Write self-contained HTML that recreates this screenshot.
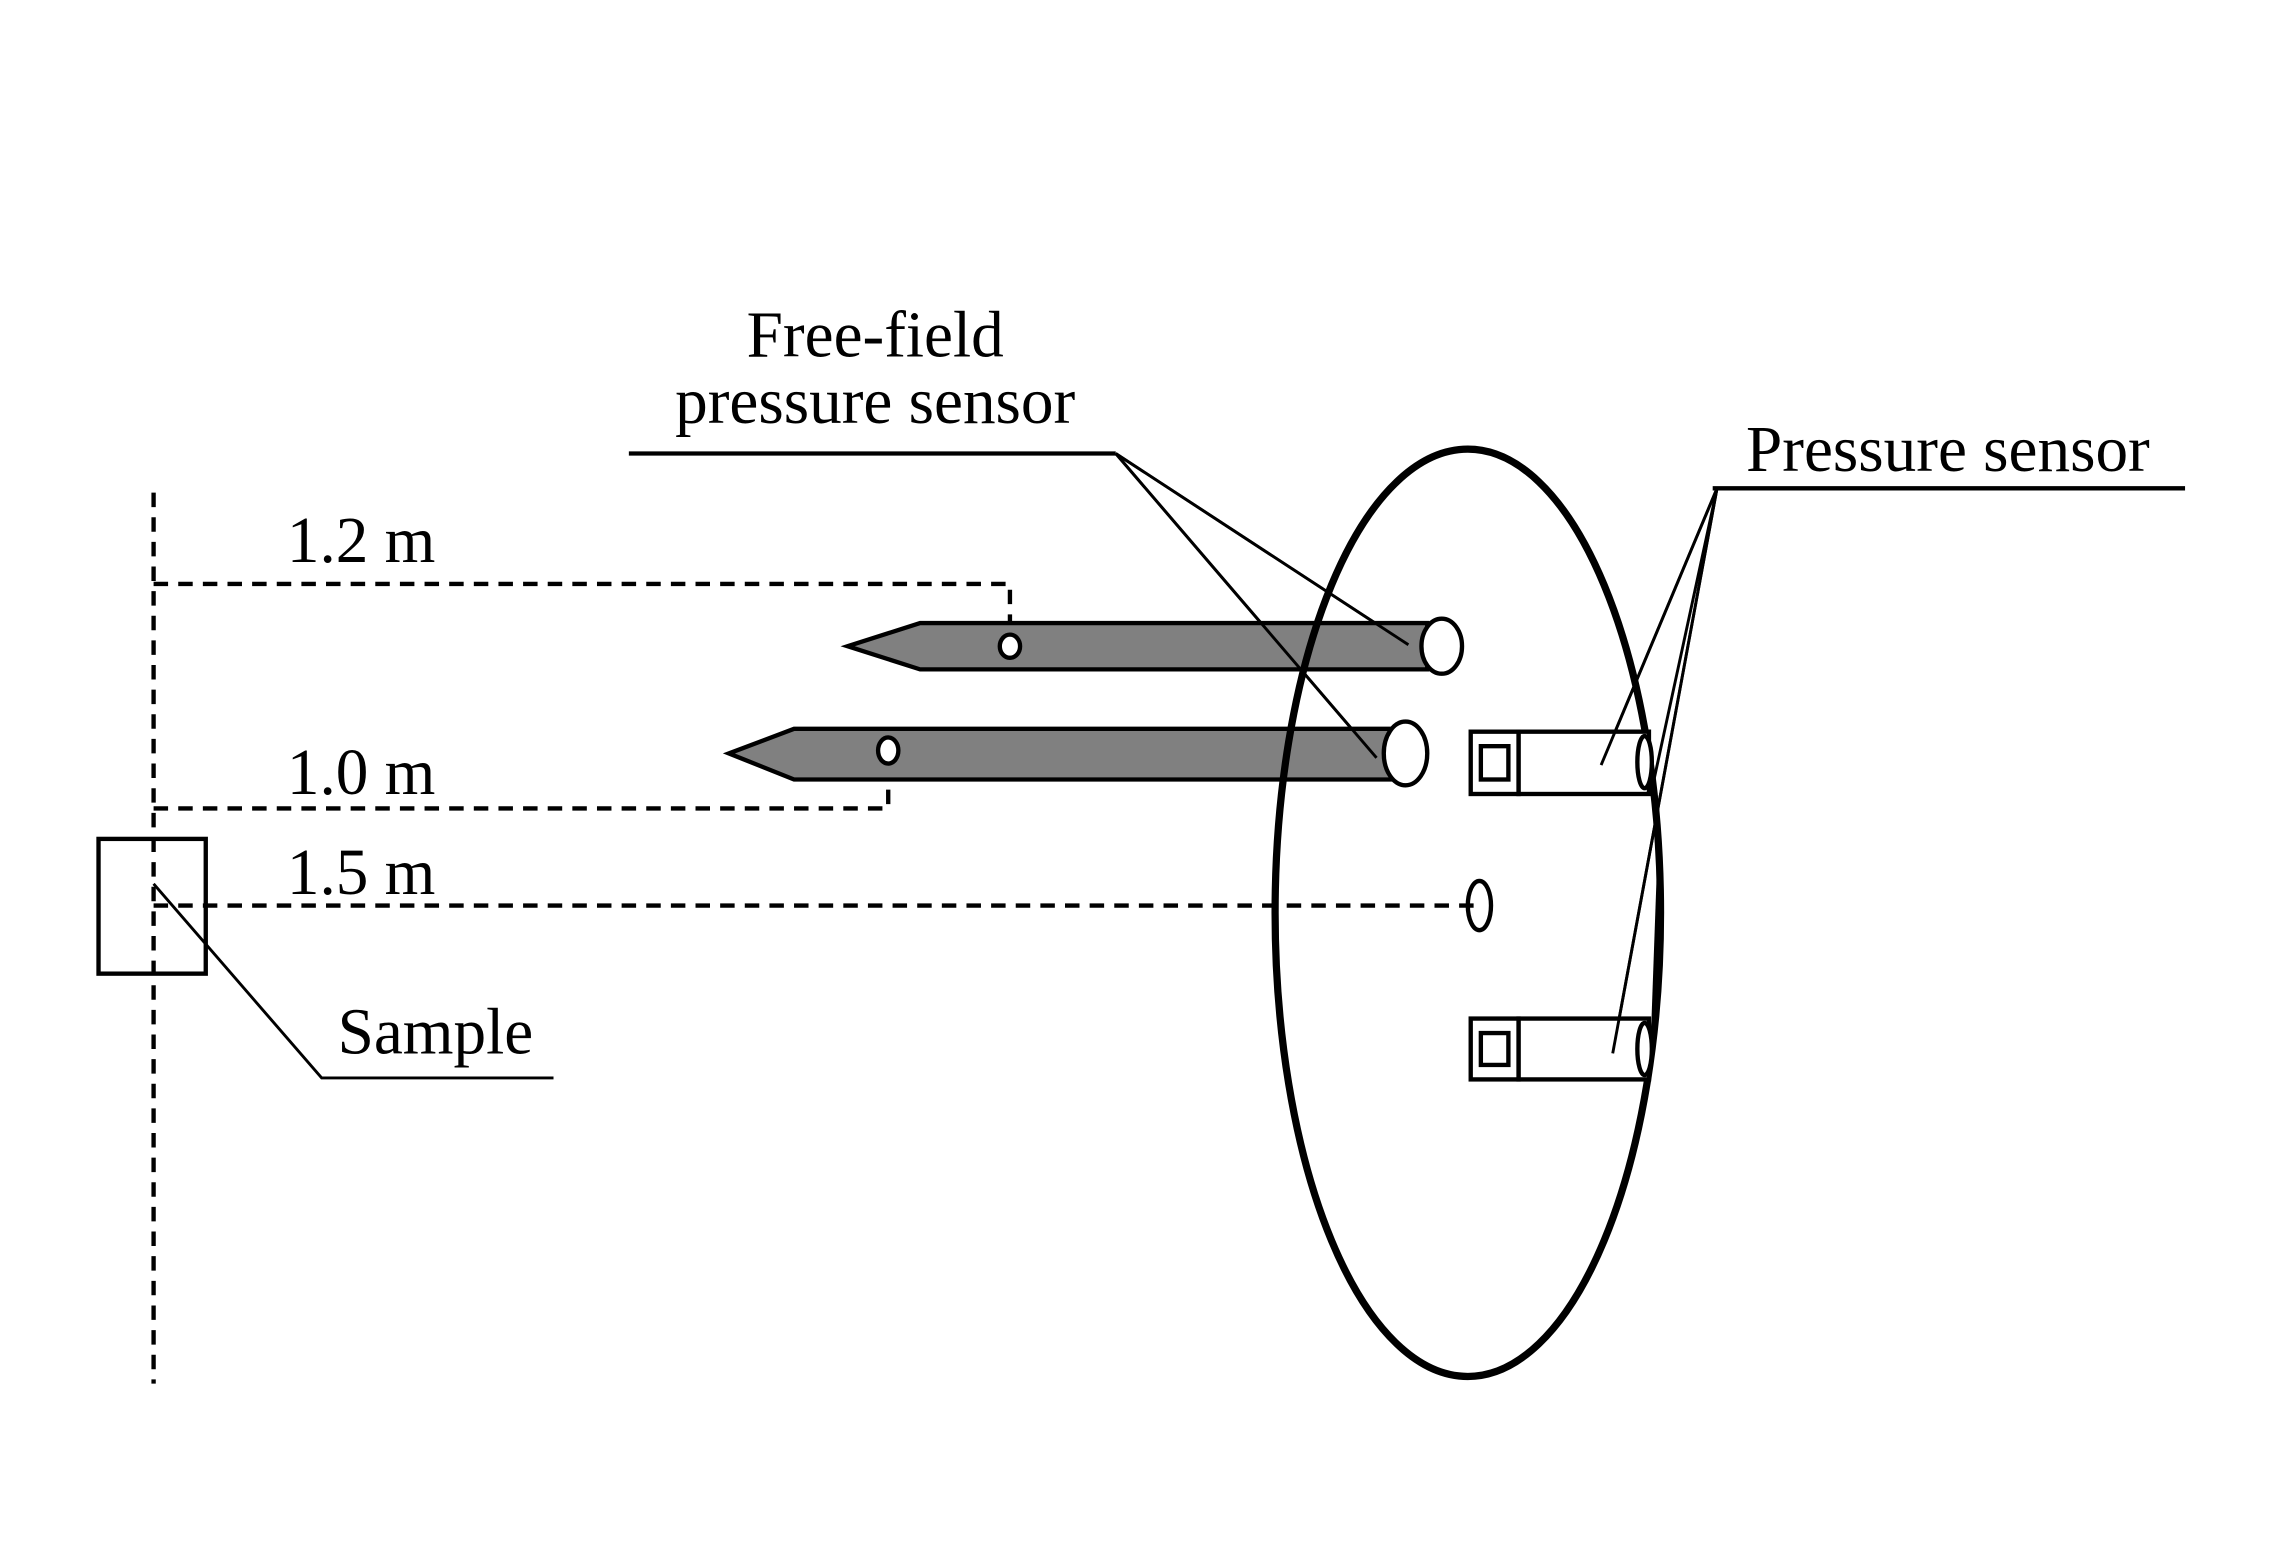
<!DOCTYPE html>
<html><head><style>html,body{margin:0;padding:0;background:#fff}svg{display:block}</style></head>
<body>
<svg width="2272" height="1559" viewBox="0 0 1568 1076" preserveAspectRatio="none" xmlns="http://www.w3.org/2000/svg">
<rect width="1568" height="1076" fill="#fff"/>
<g font-family="Liberation Serif, serif" font-size="45" fill="#000">
<text x="604" y="246" text-anchor="middle">Free-field</text>
<text x="604" y="292" text-anchor="middle">pressure sensor</text>
<text x="1205" y="325">Pressure sensor</text>
<text x="198" y="388">1.2 m</text>
<text x="198" y="548">1.0 m</text>
<text x="198" y="617">1.5 m</text>
<text x="233" y="727">Sample</text>
</g>
<g stroke="#000" fill="none" stroke-width="3" stroke-dasharray="10,7">
<line x1="106" y1="340" x2="106" y2="955"/>
<polyline points="106,403 697,403 697,430"/>
<polyline points="106,558 613,558 613,538"/>
<line x1="106" y1="625" x2="1018" y2="625"/>
</g>
<g stroke="#000" fill="none" stroke-width="2">
<rect x="68" y="579" width="74" height="93" stroke-width="3"/>
<polyline points="106,610 222,744 382,744"/>
<line x1="434" y1="313" x2="770" y2="313" stroke-width="3"/>
<line x1="770" y1="313" x2="972" y2="445"/>
<line x1="770" y1="313" x2="950" y2="523"/>
<line x1="1182" y1="337" x2="1508" y2="337" stroke-width="3"/>
<line x1="1185" y1="337" x2="1105" y2="528"/>
<line x1="1185" y1="337" x2="1140" y2="545"/>
<line x1="1185" y1="337" x2="1113" y2="727"/>
<line x1="1145" y1="585" x2="1140" y2="725"/>
</g>
<g stroke="#000" stroke-width="3">
<polygon points="585,446 635,430 985,430 985,462 635,462" fill="#808080"/>
<ellipse cx="995" cy="446" rx="14" ry="19" fill="#fff"/>
<ellipse cx="697" cy="446" rx="7" ry="8" fill="#fff"/>
<polygon points="503,520 548,503 960,503 960,538 548,538" fill="#808080"/>
<ellipse cx="970" cy="520" rx="15" ry="22" fill="#fff"/>
<ellipse cx="613" cy="518" rx="7" ry="9" fill="#fff"/>
</g>
<ellipse cx="1013" cy="630" rx="133" ry="320" fill="none" stroke="#000" stroke-width="5"/>
<line x1="770" y1="313" x2="972" y2="445" stroke="#000" stroke-width="2"/>
<line x1="770" y1="313" x2="950" y2="523" stroke="#000" stroke-width="2"/>
<ellipse cx="1021" cy="625" rx="8" ry="17" fill="none" stroke="#000" stroke-width="3"/>
<g stroke="#000" stroke-width="3" fill="#fff">
<rect x="1048" y="505" width="90" height="43"/>
<rect x="1015" y="505" width="33" height="43"/>
<rect x="1022" y="515" width="19" height="23"/>
<ellipse cx="1135" cy="526" rx="5" ry="18"/>
<rect x="1048" y="703" width="90" height="42"/>
<rect x="1015" y="703" width="33" height="42"/>
<rect x="1022" y="713" width="19" height="22"/>
<ellipse cx="1135" cy="724" rx="5" ry="18"/>
</g>
<g stroke="#000" stroke-width="2">
<line x1="1185" y1="337" x2="1105" y2="528"/>
<line x1="1185" y1="337" x2="1113" y2="727"/>
</g>
</svg>
</body></html>
